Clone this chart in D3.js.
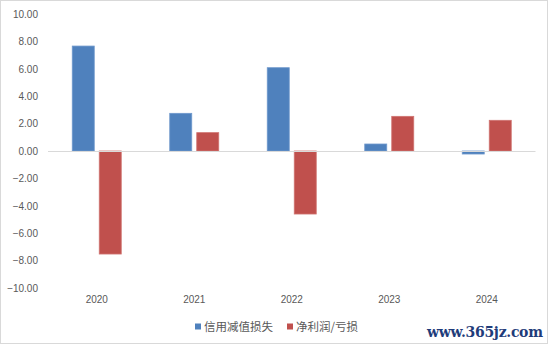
<!DOCTYPE html>
<html>
<head>
<meta charset="utf-8">
<script src="https://cdn.jsdelivr.net/npm/d3@7/dist/d3.min.js"></script>
<style>
  html, body { margin: 0; padding: 0; background: #fff; }
  svg { display: block; }
</style>
</head>
<body>
<svg id="chart" width="550" height="346"></svg>
<script>
// Yearly figures: credit impairment loss and net profit / loss
const years = ["2020", "2021", "2022", "2023", "2024"];
const creditImpairment = [7.66, 2.75, 6.08, 0.51, -0.22];
const netProfit = [-7.52, 1.34, -4.60, 2.53, 2.24];
const seriesNames = ["信用减值损失", "净利润/亏损"];
const yTicks = [10, 8, 6, 4, 2, 0, -2, -4, -6, -8, -10];

const colors = ["#4F81BD", "#C0504D"];
const strokes = ["#6f98cc", "#d07370"];

const svg = d3.select("#chart");
const W = 550, H = 346;

// outer frame
svg.append("rect")
  .attr("x", 0.5).attr("y", 0.5)
  .attr("width", W - 3).attr("height", H - 3)
  .attr("fill", "#fff").attr("stroke", "#d9d9d9");

const plot = { left: 48, right: 535.5, top: 14, bottom: 288 };

const y = d3.scaleLinear().domain([-10, 10]).range([plot.bottom, plot.top]);
const x = d3.scaleBand().domain(years).range([plot.left, plot.right]).paddingInner(0).paddingOuter(0);
const inner = d3.scaleBand().domain([0, 1]).range([0, 0]);
const barW = 22, gap = 5;

// y axis labels
const yAxis = d3.axisLeft(y).tickValues(yTicks).tickFormat(d3.format(".2f")).tickSize(0).tickPadding(0);
const yg = svg.append("g").attr("transform", `translate(38,0)`).call(yAxis);
yg.select(".domain").remove();
yg.selectAll("text")
  .attr("font-family", "'Liberation Sans', Arial, sans-serif")
  .attr("font-size", 10)
  .attr("fill", "#595959");

// x axis labels
const xAxis = d3.axisBottom(x).tickSize(0).tickPadding(0);
const xg = svg.append("g").attr("transform", `translate(0,${plot.bottom + 8})`).call(xAxis);
xg.select(".domain").remove();
xg.selectAll("text")
  .attr("font-family", "'Liberation Sans', Arial, sans-serif")
  .attr("font-size", 10)
  .attr("fill", "#595959");

// bars
const series = [creditImpairment, netProfit];
series.forEach((vals, si) => {
  svg.append("g").selectAll("rect")
    .data(vals)
    .join("rect")
    .attr("x", (d, i) => {
      const c = x(years[i]) + x.bandwidth() / 2;
      return si === 0 ? c - gap / 2 - barW : c + gap / 2;
    })
    .attr("y", d => y(Math.max(0, d)))
    .attr("width", barW)
    .attr("height", d => Math.abs(y(d) - y(0)))
    .attr("fill", colors[si])
    .attr("stroke", strokes[si])
    .attr("stroke-width", 0.8);
});

// zero line
svg.append("line")
  .attr("x1", plot.left).attr("x2", plot.right)
  .attr("y1", y(0) + 0.5).attr("y2", y(0) + 0.5)
  .attr("stroke", "#d9d9d9").attr("stroke-width", 1);

// legend
const legend = svg.append("g").attr("transform", "translate(0,327)");
const legendX = [195, 287];
seriesNames.forEach((name, i) => {
  legend.append("rect")
    .attr("x", legendX[i]).attr("y", -3.5)
    .attr("width", 6).attr("height", 6)
    .attr("fill", colors[i]);
  legend.append("text")
    .attr("x", legendX[i] + 9).attr("y", 0)
    .attr("dy", "0.35em")
    .attr("font-family", "'Noto Sans CJK SC', sans-serif")
    .attr("font-size", 11.5)
    .attr("fill", "#595959")
    .text(name);
});

// site mark
svg.append("text")
  .attr("x", 543).attr("y", 332)
  .attr("dy", "0.35em")
  .attr("text-anchor", "end")
  .attr("font-family", "'DejaVu Serif', serif")
  .attr("font-weight", "bold")
  .attr("font-size", 14)
  .attr("fill", "#1f3c7a")
  .attr("textLength", 116)
  .text("www.365jz.com");
</script>
</body>
</html>
